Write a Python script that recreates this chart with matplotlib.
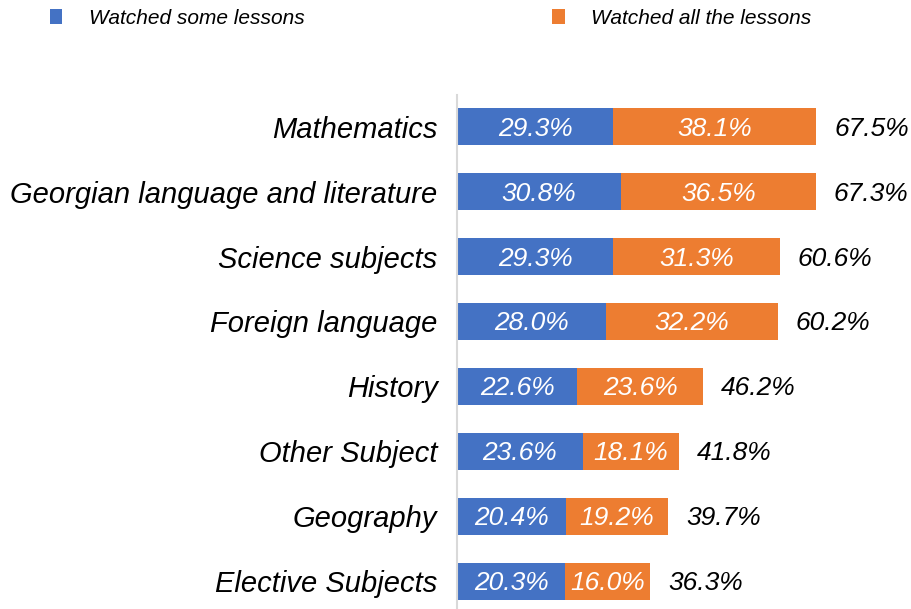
import numpy as np
import matplotlib.pyplot as plt

categories = ["Mathematics", "Georgian language and literature", "Science subjects",
              "Foreign language", "History", "Other Subject", "Geography", "Elective Subjects"]
some_lessons = [29.3, 30.8, 29.3, 28.0, 22.6, 23.6, 20.4, 20.3]
all_lessons = [38.1, 36.5, 31.3, 32.2, 23.6, 18.1, 19.2, 16.0]
totals = [67.5, 67.3, 60.6, 60.2, 46.2, 41.8, 39.7, 36.3]

blue = "#4472C4"
orange = "#ED7D31"

plt.rcParams['font.family'] = ['Liberation Sans', 'DejaVu Sans']

fig = plt.figure(figsize=(9.12, 6.09), dpi=100)
ax = fig.add_axes([457 / 912, 0.0, 455 / 912, 1 - 95 / 609])

y = np.arange(len(categories))
b1 = ax.barh(y, some_lessons, height=0.57, color=blue, label="Watched some lessons")
b2 = ax.barh(y, all_lessons, left=some_lessons, height=0.57, color=orange,
             label="Watched all the lessons")

for i in range(len(categories)):
    ax.text(some_lessons[i] / 2, y[i] + 0.03, f"{some_lessons[i]:.1f}%", ha='center', va='center',
            color='white', fontsize=19, style='italic')
    ax.text(some_lessons[i] + all_lessons[i] / 2, y[i] + 0.03, f"{all_lessons[i]:.1f}%", ha='center',
            va='center', color='white', fontsize=19, style='italic')
    ax.text(some_lessons[i] + all_lessons[i] + 3.4, y[i] + 0.03, f"{totals[i]:.1f}%", ha='left',
            va='center', color='black', fontsize=19, style='italic')

ax.set_xlim(0, 85.4)
ax.set_ylim(7.43, -0.49)
ax.set_yticks(y)
ax.set_yticklabels(categories, fontsize=21, style='italic')
ax.tick_params(axis='y', length=0, pad=14)
ax.set_xticks([])
for s in ['top', 'right', 'bottom']:
    ax.spines[s].set_visible(False)
ax.spines['left'].set_color('#D9D9D9')
ax.spines['left'].set_linewidth(1.5)

fig.legend(handles=[b1, b2], loc='center left', bbox_to_anchor=(50 / 912, 1 - 18 / 609), ncol=2,
           frameon=False, borderpad=0, borderaxespad=0, handlelength=0.6, handleheight=0.7,
           handletextpad=1.25, columnspacing=11.9, prop={'size': 15, 'style': 'italic'})

fig.savefig("out.png", dpi=100)
